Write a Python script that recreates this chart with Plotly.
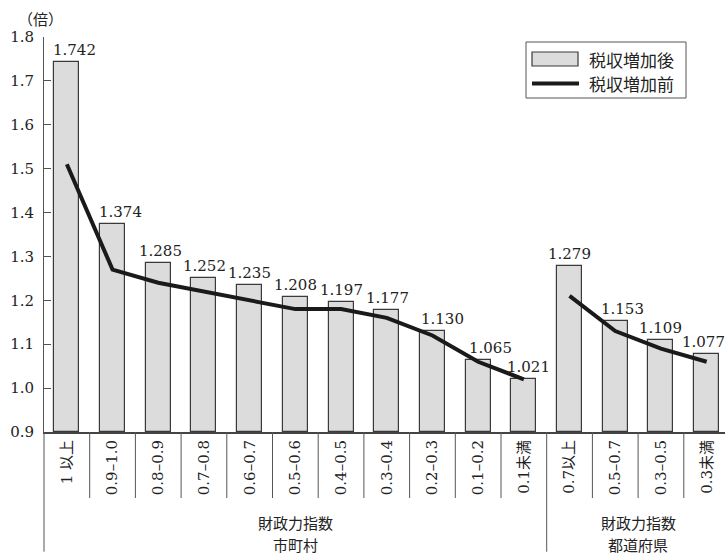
import plotly.graph_objects as go

# 財政力指数の区分（市町村 11 区分 + 都道府県 4 区分）
categories = ["1 以上", "0.9–1.0", "0.8–0.9", "0.7–0.8", "0.6–0.7", "0.5–0.6",
              "0.4–0.5", "0.3–0.4", "0.2–0.3", "0.1–0.2", "0.1未満",
              "0.7以上", "0.5–0.7", "0.3–0.5", "0.3未満"]

# 税収増加後（棒）
after_increase = [1.742, 1.374, 1.285, 1.252, 1.235, 1.208, 1.197, 1.177,
                  1.130, 1.065, 1.021, 1.279, 1.153, 1.109, 1.077]

# 税収増加前（折れ線）: 市町村と都道府県は別々の線
before_municipal = [1.51, 1.27, 1.24, 1.22, 1.20, 1.18, 1.18, 1.16, 1.12, 1.06, 1.02]
before_prefecture = [1.21, 1.13, 1.09, 1.06]

group_names = [("財政力指数", "市町村"), ("財政力指数", "都道府県")]
group_sizes = [len(before_municipal), len(before_prefecture)]

yticks = [0.9, 1.0, 1.1, 1.2, 1.3, 1.4, 1.5, 1.6, 1.7, 1.8]

# 値ラベルを線と重ならないよう横にずらす量（px）
label_dx = [8, 8, 2, 1, 0, 0, 0, 1, 10, 12, 5, 0, 7, 0, -3]

W, H = 725, 555
ML, MR, MT, MB = 44, 0, 37, 123
PW, PH = W - ML - MR, H - MT - MB
CAT_W = 45.7
x_range = [-0.5, -0.5 + PW / CAT_W]

NUM_FONT = "DejaVu Serif"
MIX_FONT = "DejaVu Serif, Noto Sans CJK JP"
CJK_FONT = "Noto Sans CJK JP"
INK = "#222222"


def px_x(px):
    return (px - ML) / PW


def px_y(py):
    return (H - MB - py) / PH


x_idx = list(range(len(categories)))
fig = go.Figure()

fig.add_trace(go.Bar(
    x=x_idx, y=[v - yticks[0] for v in after_increase], base=yticks[0],
    marker=dict(color="#dcdcdd", line=dict(color="#3a3a3a", width=1.2)),
    width=25 / CAT_W, showlegend=False, hoverinfo="skip",
))

start = 0
for size, series in zip(group_sizes, [before_municipal, before_prefecture]):
    fig.add_trace(go.Scatter(
        x=x_idx[start:start + size], y=series, mode="lines",
        line=dict(color="#1a1a1a", width=4), showlegend=False, hoverinfo="skip",
    ))
    start += size

# 棒の上の値ラベル
for i, v in enumerate(after_increase):
    fig.add_annotation(x=i, y=v, text=f"{v:.3f}", showarrow=False,
                       xanchor="center", yanchor="bottom", yshift=1,
                       xshift=label_dx[i],
                       font=dict(family=NUM_FONT, size=15, color=INK))

shapes = []
# 区分の区切り線
boundary = group_sizes[0] - 0.5
for i in range(len(categories) - 1):
    b = i + 0.5
    bottom = 551.7 if b == boundary else 498
    shapes.append(dict(type="line", xref="x", yref="paper", x0=b, x1=b,
                       y0=0, y1=px_y(bottom), line=dict(color="#555555", width=1)))
# 縦軸の下方延長
shapes.append(dict(type="line", xref="paper", yref="paper", x0=0, x1=0,
                   y0=0, y1=px_y(551.7), line=dict(color="#555555", width=1)))

# 凡例
shapes.append(dict(type="rect", xref="paper", yref="paper",
                   x0=px_x(526), x1=px_x(686), y0=px_y(98), y1=px_y(42),
                   line=dict(color="#555555", width=1), fillcolor="white"))
shapes.append(dict(type="rect", xref="paper", yref="paper",
                   x0=px_x(532), x1=px_x(578), y0=px_y(66), y1=px_y(52),
                   line=dict(color="#3a3a3a", width=1.2), fillcolor="#dcdcdd"))
shapes.append(dict(type="line", xref="paper", yref="paper",
                   x0=px_x(532), x1=px_x(579), y0=px_y(83.5), y1=px_y(83.5),
                   line=dict(color="#1a1a1a", width=4)))
fig.add_annotation(xref="paper", yref="paper", x=px_x(587), y=px_y(59.5),
                   text="税収増加後", showarrow=False, xanchor="left", yanchor="middle",
                   font=dict(family=CJK_FONT, size=17, color=INK))
fig.add_annotation(xref="paper", yref="paper", x=px_x(587), y=px_y(84),
                   text="税収増加前", showarrow=False, xanchor="left", yanchor="middle",
                   font=dict(family=CJK_FONT, size=17, color=INK))

# 単位
fig.add_annotation(xref="paper", yref="paper", x=px_x(40), y=px_y(19),
                   text="（倍）", showarrow=False, xanchor="center", yanchor="middle",
                   font=dict(family=CJK_FONT, size=15, color=INK))

# グループ名（2 行）
start = 0
for size, (line1, line2) in zip(group_sizes, group_names):
    cx = start - 0.5 + size / 2
    for text, cy in ((line1, 522), (line2, 544)):
        fig.add_annotation(xref="x", yref="paper", x=cx, y=px_y(cy),
                           text=text, showarrow=False,
                           xanchor="center", yanchor="middle",
                           font=dict(family=CJK_FONT, size=15, color=INK))
    start += size

fig.update_layout(
    width=W, height=H,
    margin=dict(l=ML, r=MR, t=MT, b=MB, pad=0),
    paper_bgcolor="white", plot_bgcolor="white",
    shapes=shapes,
    font=dict(family=NUM_FONT, size=15, color=INK),
    xaxis=dict(range=x_range, tickvals=x_idx, ticktext=categories,
               tickangle=-90, ticks="", showgrid=False, zeroline=False,
               showline=True, linecolor="#444444", linewidth=2,
               tickfont=dict(family=MIX_FONT, size=15, color=INK), fixedrange=True),
    yaxis=dict(range=[yticks[0], yticks[-1]], tickvals=yticks,
               ticktext=[f"{t:.1f}" for t in yticks],
               ticks="inside", ticklen=7, tickcolor="#555555", tickwidth=1,
               showgrid=False, zeroline=False, showline=True,
               linecolor="#555555", linewidth=1, ticklabelstandoff=6,
               tickfont=dict(family=NUM_FONT, size=15, color=INK), fixedrange=True),
    bargap=0,
)

fig.write_html("out.html")
